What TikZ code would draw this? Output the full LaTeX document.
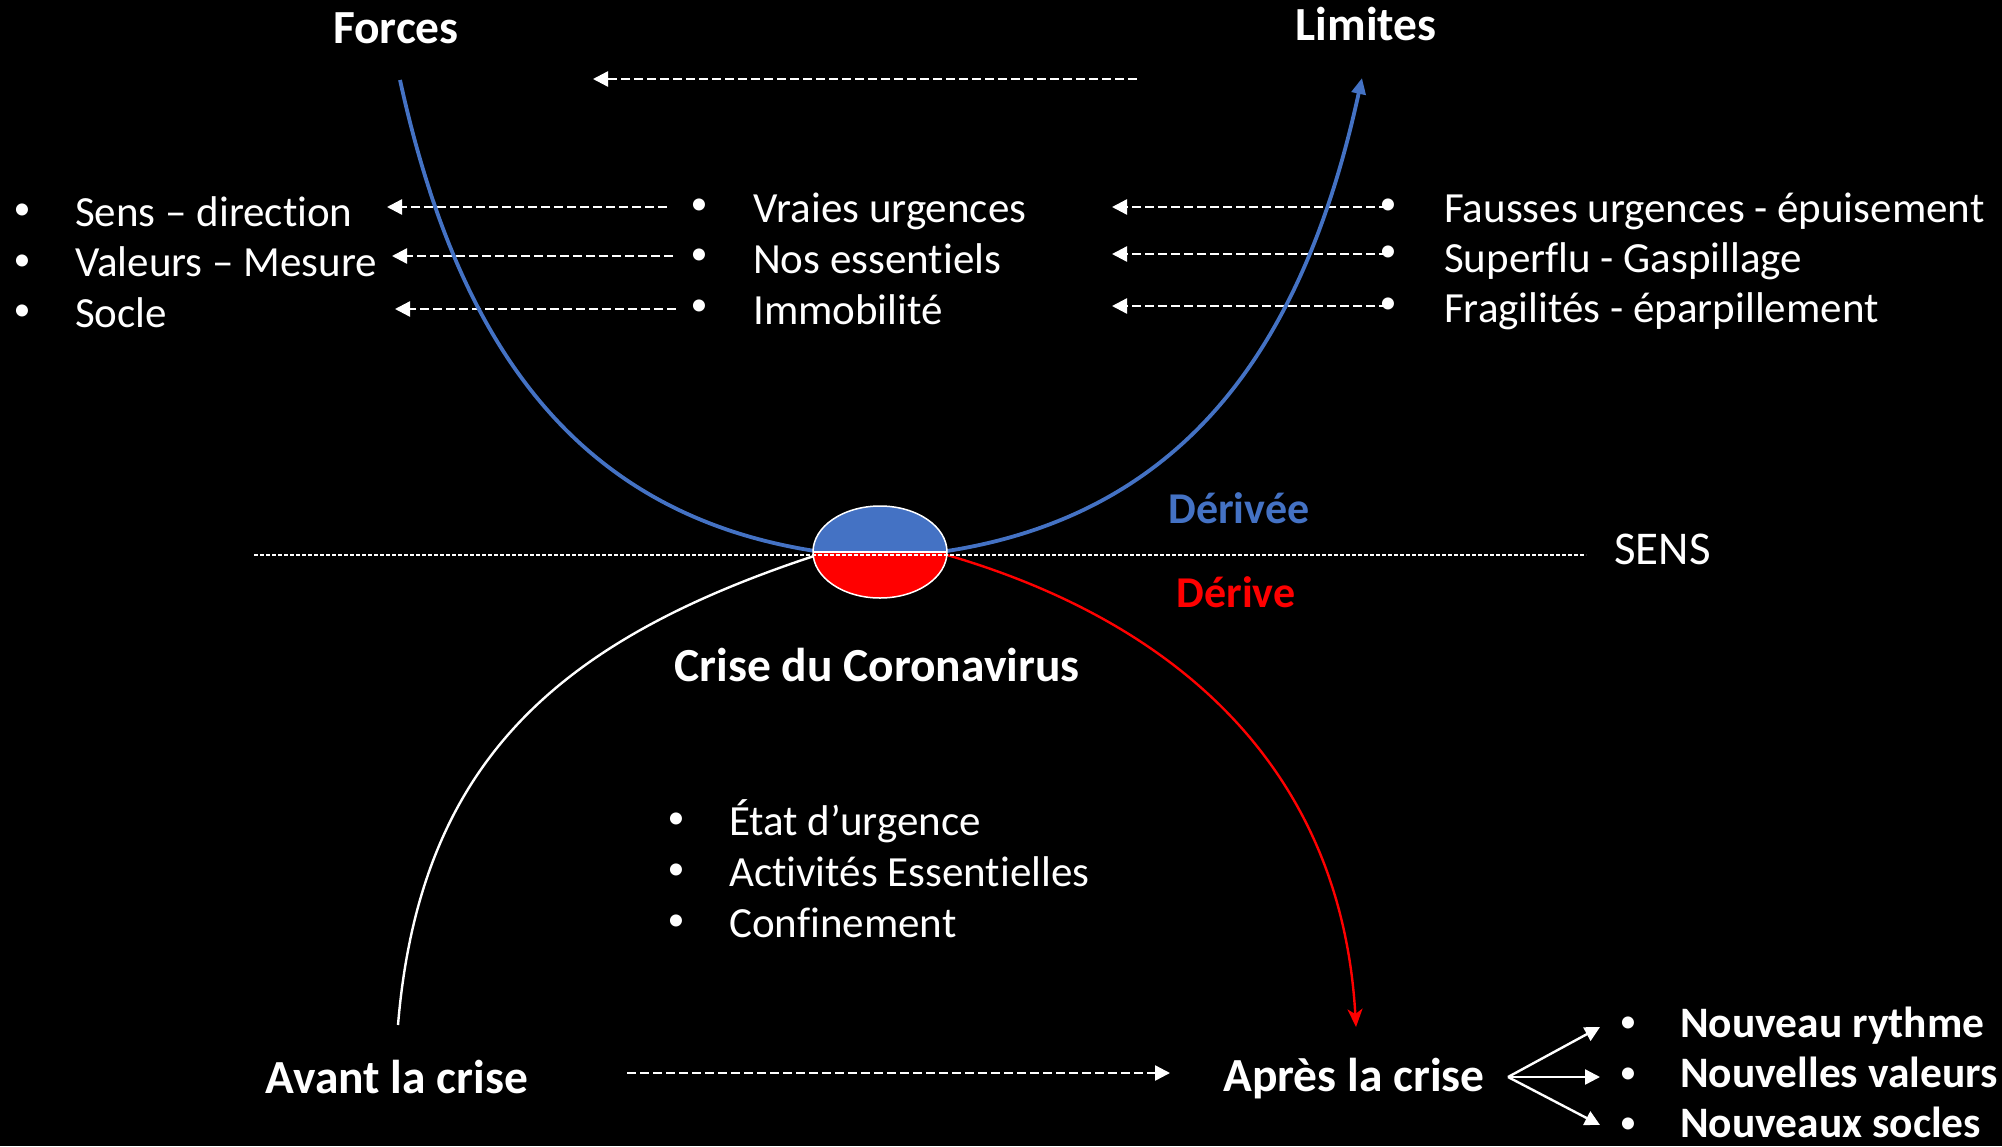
\documentclass[tikz,border=0pt]{standalone}
\usepackage{fontspec}
\setmainfont{Carlito}[Ligatures={NoCommon}]
\usetikzlibrary{arrows.meta}
\definecolor{cblue}{HTML}{4472C4}
\definecolor{cred}{HTML}{FF0000}
\newcommand{\fsbody}{\fontsize{43}{50}\selectfont}
\newcommand{\fsbul}{\fontsize{34}{40}\selectfont}
\newcommand{\fssens}{\fontsize{47}{54}\selectfont}
\newcommand{\fstitle}{\fontsize{47.5}{55}\selectfont\bfseries}
\newcommand{\fsderiv}{\fontsize{44}{52}\selectfont\bfseries}
\newcommand{\fsbold}{\fontsize{43.5}{52}\selectfont\bfseries}
\begin{document}
\begin{tikzpicture}[x=1pt,y=-1pt,
  txt/.style={text=white,inner sep=0pt,anchor=base west,font=\fsbody},
  ttl/.style={text=white,inner sep=0pt,anchor=base,font=\fstitle},
  bul/.style={text=white,inner sep=0pt,anchor=center,font=\fsbul},
  dasharrow/.style={draw=white,line width=2.4pt,dash pattern=on 9pt off 4pt,-{Triangle[length=15pt,width=15pt]}},
  solidarrow/.style={draw=white,line width=2.4pt,-{Triangle[length=15pt,width=15pt]}}]
\useasboundingbox[fill=black] (0,0) rectangle (2002,1146);

% titles
\node[ttl] (forces) at (396,43) {Forces};
\node[ttl] (limites) at (1366,40) {Limites};
\node[ttl] (crise) at (877,681) {Crise du Coronavirus};
\node[ttl] (avant) at (397,1093) {Avant la crise};
\node[ttl] (apres) at (1354,1091) {Après la crise};
\node[ttl,font=\fsderiv,text=cblue] (derivee) at (1239,523) {Dérivée};
\node[ttl,font=\fsderiv,text=cred] (derive) at (1236,607) {Dérive};
\node[txt,font=\fssens] (sens) at (1614,564) {SENS};

% top dashed arrow
\coordinate (topR) at (1137,79);
\coordinate (topL) at (593,79);
\draw[dasharrow] (topR) -- (topL);

% left list
\node[bul] (lb1) at (22,212) {•};
\node[bul] (lb2) at (22,263) {•};
\node[bul] (lb3) at (22,313) {•};
\node[txt] (l1) at (75,226) {Sens – direction};
\node[txt] (l2) at (75,276) {Valeurs – Mesure};
\node[txt] (l3) at (75,327) {Socle};

% middle list
\node[bul] (mb1) at (699,207) {•};
\node[bul] (mb2) at (699,257) {•};
\node[bul] (mb3) at (699,308) {•};
\node[txt] (m1) at (753,222) {Vraies urgences};
\node[txt] (m2) at (753,273) {Nos essentiels};
\node[txt] (m3) at (753,324) {Immobilité};

% right list
\node[bul] (rb1) at (1388,207) {•};
\node[bul] (rb2) at (1388,254) {•};
\node[bul] (rb3) at (1388,306) {•};
\node[txt] (r1) at (1444,222) {Fausses urgences - épuisement};
\node[txt] (r2) at (1444,272) {Superflu - Gaspillage};
\node[txt] (r3) at (1444,322) {Fragilités - éparpillement};

% arrows middle -> left
\coordinate (ml1) at (667,207); \coordinate (ll1) at (387,207);
\coordinate (ml2) at (673,256); \coordinate (ll2) at (392,256);
\coordinate (ml3) at (676,309); \coordinate (ll3) at (395,309);
\draw[dasharrow] (ml1) -- (ll1);
\draw[dasharrow] (ml2) -- (ll2);
\draw[dasharrow] (ml3) -- (ll3);
% arrows right -> middle
\coordinate (mr1) at (1112,207);
\coordinate (mr2) at (1112,254);
\coordinate (mr3) at (1112,306);
\draw[dasharrow] (rb1.center) -- (mr1);
\draw[dasharrow] (rb2.center) -- (mr2);
\draw[dasharrow] (rb3.center) -- (mr3);

% curve end points
\coordinate (bTop) at (400,80);
\coordinate (eL) at (815,551);
\coordinate (eR) at (947,551);
\coordinate (bTopR) at (1362,78);
\coordinate (wBot) at (398,1025);
\coordinate (rBot) at (1356,1027);

% curves
\draw[cblue,line width=3.8pt] (bTop) .. controls (455,330) and (565,512) .. (eL);
\draw[cblue,line width=3.8pt,-{Triangle[length=16pt,width=14pt]}] (eR) .. controls (1197,512) and (1307,330) .. (bTopR);
\draw[white,line width=2.4pt] (wBot) .. controls (420,760) and (560,640) .. (814,556);
\draw[cred,line width=2.4pt,-{Stealth[length=18pt,width=15pt,inset=5pt]}] (947,555) .. controls (1187,625) and (1342,777) .. (rBot);

% ellipse
\coordinate (ec) at (880,552);
\fill[cblue] (813,552) arc[start angle=180,end angle=0,x radius=67,y radius=-46] -- cycle;
\fill[cred] (813,552) arc[start angle=180,end angle=360,x radius=67,y radius=-46] -- cycle;
\draw[white,line width=1.5pt] (ec) ellipse[x radius=67,y radius=46];
\draw[white,line width=1.5pt] (813,552) -- (947,552);
\node[inner sep=0pt,minimum width=134pt,minimum height=92pt] (ell) at (ec) {};

% SENS line
\coordinate (sensL) at (254,555);
\coordinate (sensR) at (1586,555);
\draw[white,line width=1.2pt,dash pattern=on 4pt off 2pt] (sensL) -- (sensR);

% bottom middle list
\node[bul] (bb1) at (676,821) {•};
\node[bul] (bb2) at (676,872) {•};
\node[bul] (bb3) at (676,923) {•};
\node[txt] (b1) at (729,835) {État d’urgence};
\node[txt] (b2) at (729,886) {Activités Essentielles};
\node[txt] (b3) at (729,937) {Confinement};

% bottom dashed arrow
\coordinate (avR) at (627,1073);
\coordinate (apL) at (1170,1073);
\draw[dasharrow] (avR) -- (apL);

% apres arrows
\coordinate (ao) at (1508,1077);
\coordinate (at1) at (1600,1027);
\coordinate (at2) at (1600,1077);
\coordinate (at3) at (1600,1125);
\draw[solidarrow] (ao) -- (at1);
\draw[solidarrow] (ao) -- (at2);
\draw[solidarrow] (ao) -- (at3);

% final list
\node[bul] (nb1) at (1628,1025) {•};
\node[bul] (nb2) at (1628,1076) {•};
\node[bul] (nb3) at (1628,1126) {•};
\node[txt,font=\fsbold] (n1) at (1680,1037) {Nouveau rythme};
\node[txt,font=\fsbold] (n2) at (1680,1087) {Nouvelles valeurs};
\node[txt,font=\fsbold] (n3) at (1680,1137) {Nouveaux socles};
\end{tikzpicture}
\end{document}
